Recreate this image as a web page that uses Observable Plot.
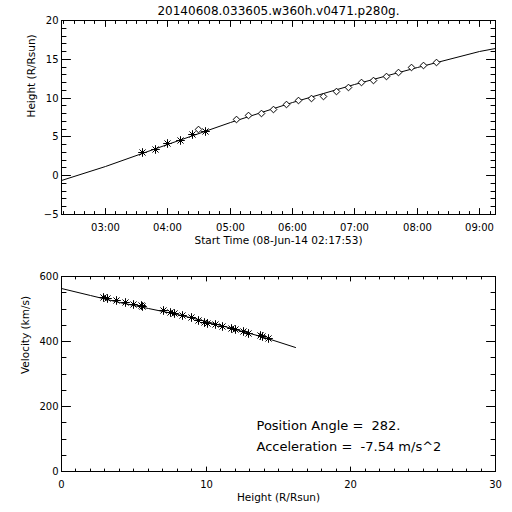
<!DOCTYPE html>
<html>
<head>
<meta charset="utf-8">
<script src="https://cdn.jsdelivr.net/npm/d3@7"></script>
<script src="https://cdn.jsdelivr.net/npm/@observablehq/plot@0.6"></script>
<style>
  body { margin: 0; background: #fff; }
  #chart { width: 512px; height: 512px; background: #fff; }
  #chart svg { display: block; }
  #chart svg text { white-space: pre; }
</style>
</head>
<body>
<div id="chart"></div>
<script>
// ---------- data ----------
const title = "20140608.033605.w360h.v0471.p280g.";
const timeAxisLabel = "Start Time (08-Jun-14 02:17:53)";
const heightAxisLabel = "Height (R/Rsun)";
const velocityAxisLabel = "Velocity (km/s)";
const obsDate = "2014-06-08";
const timeStart = "02:17:53";
const timeEnd = "09:15:04";
const hourTicks = ["03:00", "04:00", "05:00", "06:00", "07:00", "08:00", "09:00"];
const heightTicks = [-5, 0, 5, 10, 15, 20];

// C2 measurements (asterisks)
const c2Times = ["03:36", "03:48", "04:00", "04:12", "04:24", "04:36"];
const c2Heights = [2.98, 3.44, 4.09, 4.57, 5.25, 5.73];

// C3 measurements (diamonds)
const c3Times = ["04:30", "05:06", "05:18", "05:30", "05:42", "05:54", "06:06", "06:18", "06:30",
                 "06:42", "06:54", "07:06", "07:18", "07:30", "07:42", "07:54", "08:06", "08:18"];
const c3Heights = [5.95, 7.28, 7.71, 8.06, 8.54, 9.22, 9.74, 9.96, 10.26,
                   10.82, 11.38, 12.03, 12.24, 12.81, 13.32, 13.95, 14.25, 14.64];

// height-time fit curve
const fitTimes = ["02:17:53", "03:00", "04:00", "05:00", "06:00", "07:00", "08:00", "09:00", "09:15:04"];
const fitHeights = [-0.6, 1.2, 4.05, 6.85, 9.45, 11.8, 13.95, 15.95, 16.4];

// velocity vs height
const velHeights = [2.9, 3.2, 3.8, 4.4, 5.0, 5.55, 5.6, 7.08, 7.5, 7.84, 8.38, 9.02,
                    9.5, 9.88, 10.1, 10.63, 11.1, 11.77, 12.0, 12.6, 12.95, 13.73, 13.92, 14.32];
const velValues = [536, 533, 527, 521, 515, 511, 509, 494, 489, 486, 481, 474,
                   466, 458, 455, 452, 447, 440, 436, 430, 425, 420, 416, 408];
const velFitHeights = [0, 2, 4, 6, 8, 10, 12, 14, 16.2];
const velFitValues = [562, 541, 521, 502, 482, 460, 438, 413, 382];
const velXTicks = [0, 10, 20, 30];
const velYTicks = [0, 200, 400, 600];
const positionAngle = "282.";
const acceleration = "-7.54";

// ---------- build ----------
const font = "'DejaVu Sans', sans-serif";
const parseT = d3.utcParse("%Y-%m-%d %H:%M:%S");
const T = s => parseT(obsDate + " " + (s.length === 5 ? s + ":00" : s));

const c2 = c2Times.map((t, i) => ({t: T(t), h: c2Heights[i]}));
const c3 = c3Times.map((t, i) => ({t: T(t), h: c3Heights[i]}));
const fit = fitTimes.map((t, i) => ({t: T(t), h: fitHeights[i]}));
const vel = velHeights.map((h, i) => ({h, v: velValues[i]}));
const velFit = velFitHeights.map((h, i) => ({h, v: velFitValues[i]}));

const W = 512, H = 256, mL = 61, mR = 17;

// inward tick marks on all four sides of the frame (vector marks, length in px)
function frameTicks(xVals, yVals, xLen, yLen) {
  const o = {stroke: "black", strokeWidth: 1, shape: {draw(ctx, l) { ctx.moveTo(0, 0); ctx.lineTo(0, -l); }}, anchor: "start"};
  return [
    Plot.vector(xVals, {...o, x: d => d, frameAnchor: "bottom", length: xLen, rotate: 0}),
    Plot.vector(xVals, {...o, x: d => d, frameAnchor: "top", length: xLen, rotate: 180}),
    Plot.vector(yVals, {...o, y: d => d, frameAnchor: "left", length: yLen, rotate: 90}),
    Plot.vector(yVals, {...o, y: d => d, frameAnchor: "right", length: yLen, rotate: 270})
  ];
}

// top plot
const t0 = T(timeStart), t1 = T(timeEnd);
const hourDates = hourTicks.map(T);
const minorTimes = d3.utcMinute.every(10).range(t0, t1);
const topYDom = [-5, 20];

const topPlot = Plot.plot({
  width: W, height: H,
  marginLeft: mL, marginRight: mR, marginTop: 20, marginBottom: 42,
  style: {fontFamily: font, fontSize: "10px", background: "white", color: "black", overflow: "visible"},
  x: {type: "utc", domain: [t0, t1], round: true},
  y: {domain: topYDom, round: true},
  marks: [
    Plot.frame({stroke: "black", strokeWidth: 1}),
    ...frameTicks(minorTimes, d3.range(-5, 20.001, 1), 3, 4.5),
    ...frameTicks(hourDates, heightTicks, 6, 9),
    Plot.axisX({ticks: hourDates, tickSize: 0, tickPadding: 9.5, tickFormat: d3.utcFormat("%H:%M"), label: null, fontSize: 10}),
    Plot.axisY({ticks: heightTicks, tickSize: 0, tickPadding: 3, label: null, fontSize: 10}),
    Plot.line(fit, {x: "t", y: "h", stroke: "black", strokeWidth: 1}),
    Plot.dot(c2, {x: "t", y: "h", symbol: "plus", r: 2.9, stroke: "black", strokeWidth: 1}),
    Plot.dot(c2, {x: "t", y: "h", symbol: "times", r: 2.9, stroke: "black", strokeWidth: 1}),
    Plot.dot(c3, {x: "t", y: "h", symbol: "diamond2", r: 3, stroke: "black", fill: "white", strokeWidth: 1}),
    Plot.text([title], {text: d => d, frameAnchor: "top", lineAnchor: "middle", dy: -9.5, fontSize: 12}),
    Plot.text([timeAxisLabel], {text: d => d, frameAnchor: "bottom", lineAnchor: "middle", dy: 26, fontSize: 10.5}),
    Plot.text([heightAxisLabel], {text: d => d, frameAnchor: "left", rotate: -90, dx: -30, fontSize: 10.5})
  ]
});

// bottom plot
const botXDom = [0, 30], botYDom = [0, 600];
const bottomPlot = Plot.plot({
  width: W, height: H,
  marginLeft: mL, marginRight: mR, marginTop: 20, marginBottom: 41,
  style: {fontFamily: font, fontSize: "10px", background: "white", color: "black", overflow: "visible"},
  x: {domain: botXDom, round: true},
  y: {domain: botYDom, round: true},
  marks: [
    Plot.frame({stroke: "black", strokeWidth: 1}),
    ...frameTicks(d3.range(0, 30.001, 1), d3.range(0, 600.001, 50), 2.5, 4.5),
    ...frameTicks(velXTicks, velYTicks, 4.5, 9),
    Plot.axisX({ticks: velXTicks, tickSize: 0, tickPadding: 9.5, label: null, fontSize: 10}),
    Plot.axisY({ticks: velYTicks, tickSize: 0, tickPadding: 3, label: null, fontSize: 10}),
    Plot.line(velFit, {x: "h", y: "v", stroke: "black", strokeWidth: 1}),
    Plot.dot(vel, {x: "h", y: "v", symbol: "plus", r: 2.9, stroke: "black", strokeWidth: 1}),
    Plot.dot(vel, {x: "h", y: "v", symbol: "times", r: 2.9, stroke: "black", strokeWidth: 1}),
    Plot.text([heightAxisLabel], {text: d => d, frameAnchor: "bottom", lineAnchor: "middle", dy: 25.7, fontSize: 10.5}),
    Plot.text([velocityAxisLabel], {text: d => d, frameAnchor: "left", rotate: -90, dx: -36, fontSize: 10.5}),
    Plot.text(["Position Angle =  " + positionAngle], {text: d => d, frameAnchor: "bottom-left", textAnchor: "start", lineAnchor: "middle", dx: 195, dy: -45.3, fontSize: 13}),
    Plot.text(["Acceleration =  " + acceleration + " m/s^2"], {text: d => d, frameAnchor: "bottom-left", textAnchor: "start", lineAnchor: "middle", dx: 195, dy: -24.3, fontSize: 13})
  ]
});

const chart = document.getElementById("chart");
chart.appendChild(topPlot);
chart.appendChild(bottomPlot);
</script>
</body>
</html>
